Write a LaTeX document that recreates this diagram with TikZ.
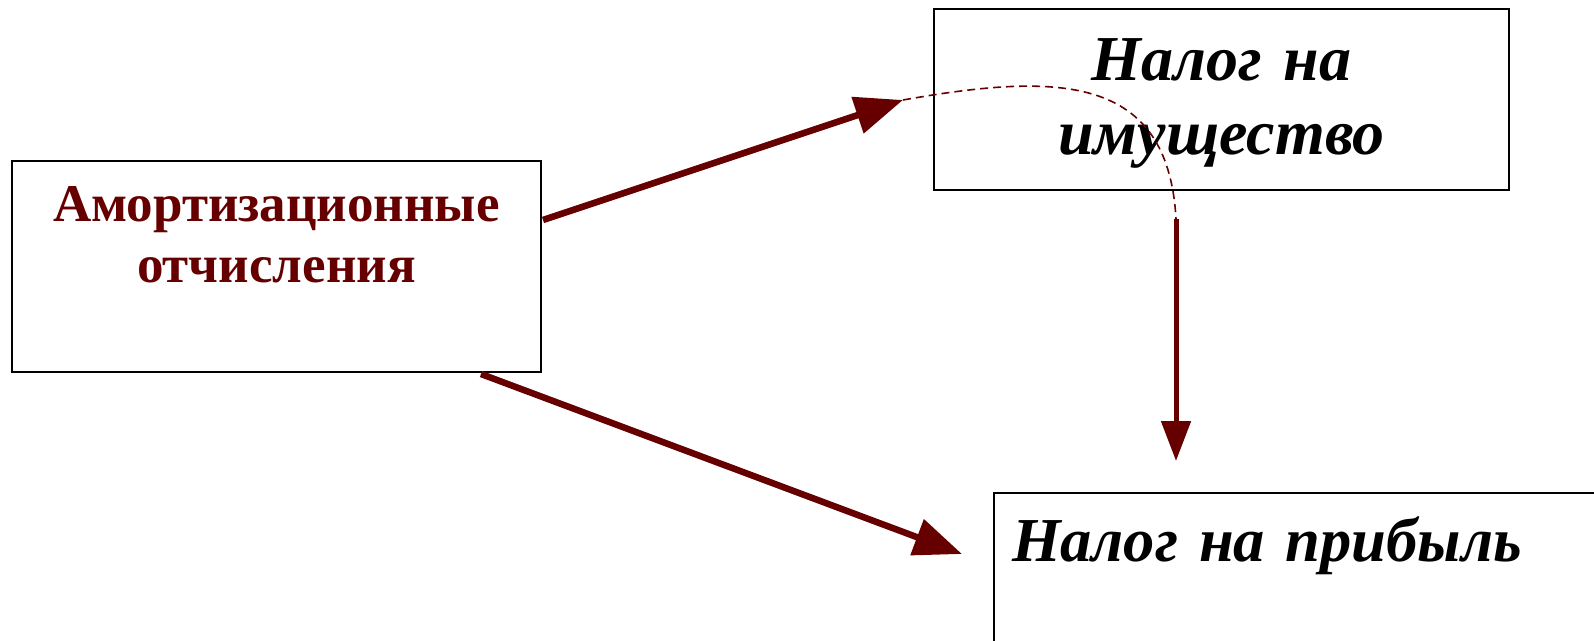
\documentclass[tikz,border=0pt]{standalone}
\usepackage{fontspec}
\setmainfont{Liberation Serif}
\usetikzlibrary{arrows.meta}
\definecolor{dred}{RGB}{102,0,0}
\begin{document}
\begin{tikzpicture}[x=1pt,y=-1pt,
  box/.style={draw=black, line width=2pt, inner sep=0pt},
  bigarrow/.style={draw=dred, line width=6.5pt, -{Triangle[length=48pt,width=37pt]}},
  midarrow/.style={draw=dred, line width=5pt, -{Triangle[length=40pt,width=29pt]}},
  dashlink/.style={draw=dred, line width=1.6pt, dash pattern=on 8pt off 5pt},
  redtext/.style={font=\fontsize{53}{61}\selectfont\bfseries, text=dred},
  blacktext/.style={font=\fontsize{64}{74}\selectfont\bfseries\itshape, text=black}]
\useasboundingbox (0,0) rectangle (1594,640);
\clip (0,0) rectangle (1594,640);
\node[box, redtext, anchor=north west, text width=529pt, align=center,
      text height=60pt, text depth=151pt] (amort) at (11,160)
  {Амортизационные\\отчисления};
\node[box, blacktext, anchor=north west, text width=575pt, align=center,
      text height=71pt, text depth=110pt] (prop) at (933,8)
  {Налог на\\имущество};
\node[box, blacktext, font=\fontsize{62.5}{74}\selectfont\bfseries\itshape,
      anchor=north west, text width=630pt, align=left,
      text height=68pt, text depth=120pt] (profit) at (993,492)
  {\hspace*{18pt}Налог на прибыль};
\coordinate (a1s) at (543,220);
\coordinate (a1e) at (903,100);
\coordinate (a2s) at (1176,219);
\coordinate (a2e) at (1176,461);
\coordinate (a3s) at (481,374);
\coordinate (a3e) at (962,554);
\draw[bigarrow] (a1s) -- (a1e);
\draw[dashlink] (a1e) .. controls (1060,72) and (1168,75) .. (a2s);
\draw[midarrow] (a2s) -- (a2e);
\draw[bigarrow] (a3s) -- (a3e);
\end{tikzpicture}
\end{document}
